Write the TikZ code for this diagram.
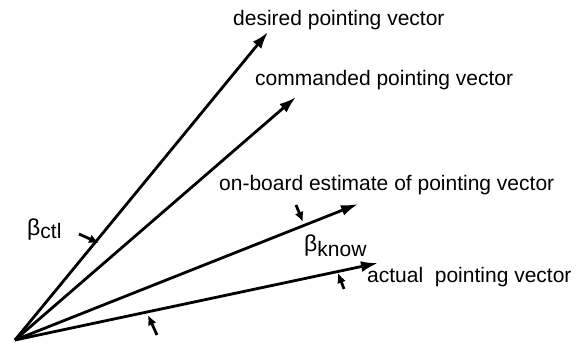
\documentclass[tikz,border=0pt]{standalone}
\usepackage{fontspec}
\setmainfont{Liberation Sans}
\usetikzlibrary{arrows.meta}
\begin{document}
\begin{tikzpicture}[x=1pt,y=-1pt,
  vec/.style={line width=2.8pt,-{Latex[length=17pt,width=11pt]}},
  anglemark/.style={line width=2.8pt,-{Latex[length=10pt,width=9pt]}},
  lab/.style={anchor=base west,inner sep=0pt,font=\fontsize{21}{24}\selectfont}]
\useasboundingbox (0,0) rectangle (584,343);
\coordinate (o) at (15,340);
\coordinate (des) at (268,32);
\coordinate (com) at (296,97);
\coordinate (onb) at (358,204);
\coordinate (act) at (378,263);
\draw[vec] (o) -- (des);
\draw[vec] (o) -- (com);
\draw[vec] (o) -- (onb);
\draw[vec] (o) -- (act);
% angle markers
\coordinate (m1a) at (79,234); \coordinate (m1b) at (99,243);
\coordinate (m2a) at (296,205); \coordinate (m2b) at (303,222);
\coordinate (m3a) at (157,335); \coordinate (m3b) at (148,315);
\coordinate (m4a) at (344,289); \coordinate (m4b) at (338,273);
\draw[anglemark] (m1a) -- (m1b);
\draw[anglemark] (m2a) -- (m2b);
\draw[anglemark] (m3a) -- (m3b);
\draw[anglemark] (m4a) -- (m4b);
% labels
\node[lab] (tdes) at (233,25) {desired pointing vector};
\node[lab] (tcom) at (255,85) {commanded pointing vector};
\node[lab] (tonb) at (219,190) {on-board estimate of pointing vector};
\node[lab] (tact) at (367,282) {actual\ \ pointing vector};
\node[lab] (tctl) at (27,235) {{\fontsize{23}{24}\selectfont β}\raisebox{-3pt}{ctl}};
\node[lab] (tknow) at (304,251) {{\fontsize{23}{24}\selectfont β}\raisebox{-5pt}{know}};
\end{tikzpicture}
\end{document}
